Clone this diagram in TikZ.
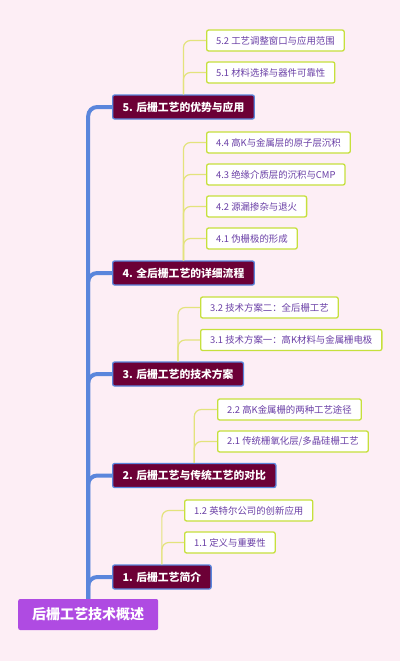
\documentclass[tikz,border=0pt]{standalone}
\usepackage{fontspec}
\setmainfont{Noto Sans CJK SC}
\usepackage{tikz}
\definecolor{bgpink}{HTML}{FDEEF5}
\definecolor{rootpurple}{HTML}{AF4BE2}
\definecolor{topicred}{HTML}{6C0036}
\definecolor{trunkblue}{HTML}{5A86DC}
\definecolor{leafline}{HTML}{C6E03C}
\definecolor{leaftext}{HTML}{6A3FA6}
\definecolor{twig}{HTML}{E3E37C}
\tikzstyle{root} = [fill=rootpurple, text=white, font=\fontsize{14}{16}\selectfont\bfseries, rounded corners=2pt, inner xsep=14pt, minimum height=31pt, anchor=west]
\tikzstyle{topic} = [draw=trunkblue, line width=1.3pt, fill=topicred, text=white, font=\fontsize{10.8}{13}\selectfont\bfseries, rounded corners=2pt, inner xsep=10pt, minimum height=24pt, anchor=west]
\tikzstyle{leaf} = [draw=leafline, line width=1.3pt, fill=white, text=leaftext, font=\fontsize{9.4}{11}\selectfont, rounded corners=2pt, inner xsep=9.5pt, minimum height=21pt, anchor=west]
\tikzstyle{trunk} = [draw=trunkblue, line width=4pt, rounded corners=9pt]
\tikzstyle{branch} = [draw=twig, line width=1.2pt, rounded corners=7pt]

\begin{document}
\begin{tikzpicture}[x=1pt, y=-1pt]
  \fill[bgpink] (0,0) rectangle (400,661);
  \useasboundingbox (0,0) rectangle (400,661);
  \node (r) at (18,614.5) [root] {后栅工艺技术概述};
  \node (a) at (112,577) [topic] {1. 后栅工艺简介};
  \node (b) at (112,475.5) [topic] {2. 后栅工艺与传统工艺的对比};
  \node (c) at (112,374) [topic] {3. 后栅工艺的技术方案};
  \node (d) at (112,273) [topic] {4. 全后栅工艺的详细流程};
  \node (e) at (112,107) [topic] {5. 后栅工艺的优势与应用};
  \node (a1) at (184,542.5) [leaf] {1.1 定义与重要性};
  \node (a2) at (184,510.5) [leaf] {1.2 英特尔公司的创新应用};
  \node (b1) at (217,441.5) [leaf] {2.1 传统栅氧化层/多晶硅栅工艺};
  \node (b2) at (217,409.5) [leaf] {2.2 高K金属栅的两种工艺途径};
  \node (c1) at (200,340) [leaf] {3.1 技术方案一：高K材料与金属栅电极};
  \node (c2) at (200,307.5) [leaf] {3.2 技术方案二：全后栅工艺};
  \node (d1) at (206,238.5) [leaf] {4.1 伪栅极的形成};
  \node (d2) at (206,206.5) [leaf] {4.2 源漏掺杂与退火};
  \node (d3) at (206,174.5) [leaf] {4.3 绝缘介质层的沉积与CMP};
  \node (d4) at (206,142.5) [leaf] {4.4 高K与金属层的原子层沉积};
  \node (e1) at (206,72.5) [leaf] {5.1 材料选择与器件可靠性};
  \node (e2) at (206,40.5) [leaf] {5.2 工艺调整窗口与应用范围};
  % main branches
  \draw [trunk] (r.north) |- (a.west);
  \draw [trunk] (r.north) |- (b.west);
  \draw [trunk] (r.north) |- (c.west);
  \draw [trunk] (r.north) |- (d.west);
  \draw [trunk] (r.north) |- (e.west);
  % sub branches
  \draw [branch] (a.north) |- (a1.west);
  \draw [branch] (a.north) |- (a2.west);
  \draw [branch] (b.north) |- (b1.west);
  \draw [branch] (b.north) |- (b2.west);
  \draw [branch] (c.north) |- (c1.west);
  \draw [branch] (c.north) |- (c2.west);
  \draw [branch] (d.north) |- (d1.west);
  \draw [branch] (d.north) |- (d2.west);
  \draw [branch] (d.north) |- (d3.west);
  \draw [branch] (d.north) |- (d4.west);
  \draw [branch] (e.north) |- (e1.west);
  \draw [branch] (e.north) |- (e2.west);
\end{tikzpicture}
\end{document}
